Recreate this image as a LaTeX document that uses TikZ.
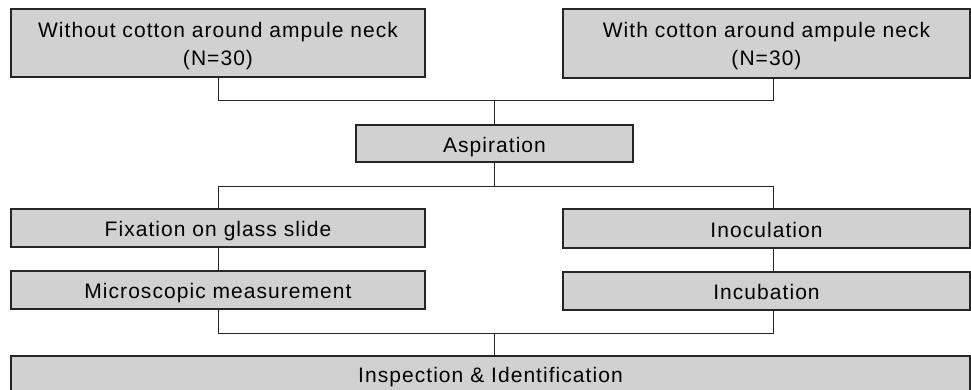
\documentclass[tikz,border=0pt]{standalone}
\usepackage{fontspec}
\setmainfont{Liberation Sans}[LetterSpace=5]
\begin{document}
\begin{tikzpicture}[x=1pt,y=-1pt,
  box/.style={draw=black!85, line width=1.1pt, fill=black!18, inner sep=0pt, align=center,
    font=\fontsize{21}{28}\selectfont},
  one/.style={box, text height=17pt, text depth=0pt},
  two/.style={box, text height=45pt, text depth=1pt},
  conn/.style={draw=black!85, line width=0.9pt}]
\clip (0,0) rectangle (971,389);
\fill[white] (0,0) rectangle (971,389);
\node[two, minimum width=414pt, minimum height=68pt] (wo) at (218,43) {Without cotton around ampule neck\\(N=30)};
\node[two, minimum width=407pt, minimum height=69pt] (wi) at (766.5,43.5) {With cotton around ampule neck\\(N=30)};
\node[one, minimum width=277pt, minimum height=37pt] (asp) at (494.5,143.5) {Aspiration};
\node[one, minimum width=414pt, minimum height=38pt] (fix) at (218,228) {Fixation on glass slide};
\node[one, minimum width=407pt, minimum height=39pt] (inoc) at (766.5,228.5) {Inoculation};
\node[one, minimum width=414pt, minimum height=38pt] (mic) at (218,290) {Microscopic measurement};
\node[one, minimum width=407pt, minimum height=38pt] (incu) at (766.5,291) {Incubation};
\node[one, minimum width=959pt, minimum height=36pt] (insp) at (490.5,374) {Inspection \& Identification};
\coordinate (j1) at (494.5,100);
\coordinate (j2) at (494.5,186);
\coordinate (j3) at (494.5,333);
\draw[conn] (wo.south) |- (j1);
\draw[conn] ([xshift=6.5pt]wi.south) |- (j1);
\draw[conn] (j1) -- (asp.north);
\draw[conn] (asp.south) -- (j2);
\draw[conn] (j2) -| (fix.north);
\draw[conn] (j2) -| ([xshift=6.5pt]inoc.north);
\draw[conn] (fix.south) -- (mic.north);
\draw[conn] ([xshift=6.5pt]inoc.south) -- ([xshift=6.5pt]incu.north);
\draw[conn] (mic.south) |- (j3);
\draw[conn] ([xshift=6.5pt]incu.south) |- (j3);
\draw[conn] (j3) -- (j3 |- insp.north);
\end{tikzpicture}
\end{document}
